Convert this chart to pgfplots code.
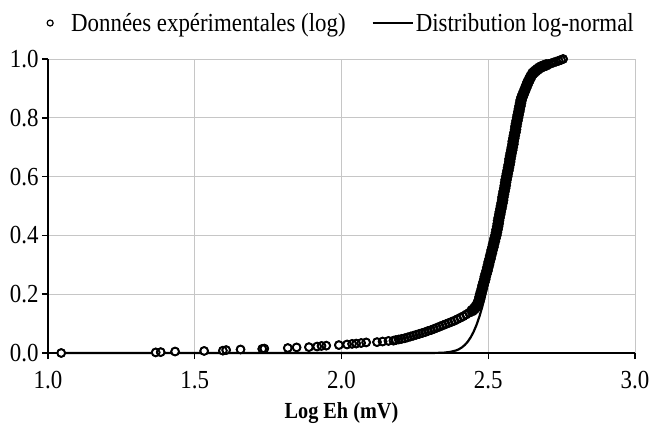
\documentclass[border=0pt]{standalone}
\usepackage{fontspec}
\setmainfont{Liberation Serif}[FakeStretch=0.88]
\usepackage{pgfplots}
\pgfplotsset{compat=1.18}
\pgfplotstableread{
x y
1.045 0.000
1.367 0.002
1.384 0.003
1.433 0.005
1.532 0.007
1.596 0.008
1.607 0.010
1.656 0.012
1.730 0.014
1.737 0.015
1.817 0.017
1.847 0.019
1.889 0.020
1.917 0.022
1.932 0.024
1.948 0.025
1.991 0.027
2.019 0.029
2.036 0.031
2.050 0.032
2.067 0.034
2.084 0.036
2.121 0.037
2.140 0.039
2.160 0.041
2.177 0.042
2.185 0.044
2.195 0.046
2.205 0.048
2.215 0.050
2.225 0.053
2.235 0.056
2.245 0.059
2.255 0.062
2.265 0.065
2.275 0.068
2.285 0.071
2.295 0.075
2.305 0.078
2.315 0.082
2.325 0.086
2.335 0.090
2.345 0.094
2.355 0.098
2.365 0.102
2.375 0.106
2.385 0.110
2.395 0.115
2.405 0.120
2.415 0.125
2.425 0.131
2.435 0.137
2.445 0.144
2.452 0.150
2.458 0.157
2.463 0.165
2.467 0.173
2.470 0.182
2.472 0.191
2.474 0.20
2.477 0.21
2.480 0.22
2.482 0.23
2.485 0.24
2.488 0.25
2.490 0.26
2.493 0.27
2.496 0.28
2.498 0.29
2.501 0.30
2.503 0.31
2.506 0.32
2.508 0.33
2.511 0.34
2.513 0.35
2.516 0.36
2.518 0.37
2.521 0.38
2.523 0.39
2.526 0.40
2.528 0.41
2.530 0.42
2.532 0.43
2.534 0.44
2.535 0.45
2.537 0.46
2.539 0.47
2.541 0.48
2.543 0.49
2.545 0.50
2.547 0.51
2.549 0.52
2.550 0.53
2.552 0.54
2.554 0.55
2.556 0.56
2.558 0.57
2.559 0.58
2.561 0.59
2.563 0.60
2.565 0.61
2.567 0.62
2.569 0.63
2.571 0.64
2.573 0.65
2.574 0.66
2.576 0.67
2.578 0.68
2.580 0.69
2.582 0.70
2.584 0.71
2.585 0.72
2.587 0.73
2.589 0.74
2.591 0.75
2.593 0.76
2.594 0.77
2.596 0.78
2.598 0.79
2.600 0.80
2.602 0.81
2.604 0.82
2.606 0.83
2.608 0.84
2.610 0.85
2.612 0.86
2.615 0.87
2.619 0.88
2.623 0.89
2.627 0.90
2.631 0.91
2.635 0.92
2.640 0.93
2.645 0.94
2.651 0.95
2.656 0.955
2.662 0.960
2.668 0.965
2.675 0.970
2.682 0.974
2.690 0.977
2.698 0.980
2.706 0.983
2.714 0.985
2.722 0.988
2.731 0.991
2.740 0.994
2.748 0.997
2.755 1.000
}\datapoints
\pgfplotstableread{
x y
1.045 0.0000
2.300 0.0001
2.330 0.0005
2.350 0.0013
2.370 0.0036
2.390 0.0085
2.400 0.0128
2.410 0.0189
2.420 0.0272
2.430 0.0384
2.440 0.0531
2.450 0.0719
2.460 0.0955
2.470 0.1243
2.480 0.1587
2.490 0.1987
2.500 0.2444
2.510 0.2952
2.520 0.3501
2.530 0.4088
2.540 0.4693
2.550 0.5307
2.560 0.5912
2.570 0.6499
2.580 0.7048
2.590 0.7556
2.600 0.8013
2.610 0.8413
2.620 0.8757
2.630 0.9045
2.640 0.9281
2.650 0.9469
2.660 0.9616
2.680 0.9811
2.700 0.9915
2.720 0.9964
2.740 0.9987
2.760 0.9995
}\lognormal
\begin{document}
\begin{tikzpicture}
\useasboundingbox (-48pt,-84pt) rectangle (601pt,353pt);
\begin{axis}[
  scale only axis, width=587pt, height=294pt,
  at={(0,0)}, anchor=south west,
  xmin=1, xmax=3, ymin=0, ymax=1,
  xtick={1,1.5,2,2.5,3},
  ytick={0,0.2,0.4,0.6,0.8,1},
  /pgf/number format/assume math mode=true,
  xticklabel style={/pgf/number format/.cd, fixed, fixed zerofill, precision=1, /tikz/.cd, yshift=-9pt},
  yticklabel style={/pgf/number format/.cd, fixed, fixed zerofill, precision=1},
  tick label style={font=\fontsize{26}{28}\selectfont, black},
  grid=major,
  major grid style={draw=gray!45, line width=0.9pt},
  axis x line*=bottom, axis y line*=left,
  axis line style={line width=1.8pt, -, black},
  tick style={black, line width=1.5pt},
  major tick length=6pt, tick align=outside,
  xlabel={\bfseries Log Eh (mV)},
  xlabel style={font=\fontsize{23}{25}\selectfont, yshift=-6pt},
  clip=false,
  legend columns=2,
  legend cell align=left,
  legend style={at={(1,1)}, anchor=south east, yshift=22pt, xshift=4pt,
    draw=none, fill=none, font=\fontsize{26}{28}\selectfont,
    /tikz/every even column/.append style={column sep=24pt}},
]
\addplot[black, line width=2.2pt, forget plot] table[x=x, y=y] {\lognormal};
\addplot[only marks, mark=*, mark size=3.9pt, forget plot,
  mark options={fill=white, draw=black, line width=1.4pt}] table[x=x, y=y] {\datapoints};
\addplot[only marks, mark=*, mark size=5.6pt, forget plot,
  restrict y to domain=0.14:0.982,
  mark options={fill=black, draw=none}] table[x=x, y=y] {\datapoints};
\addplot[only marks, mark=o, mark size=3.9pt,
  mark options={draw=black, line width=1.9pt},
  legend image code/.code={\draw[black, line width=1.2pt, fill=white] (0pt,0pt) circle (3pt); \path[draw=none, fill=none] (-3pt,0pt) -- (19pt,0pt);}] table[x=x, y=y] {\datapoints};
\addlegendentry{Données expérimentales (log)}
\addlegendimage{black, line width=2.2pt,
  legend image code/.code={\draw[black, line width=2.2pt] (0pt,0pt) -- (40pt,0pt);}}
\addlegendentry{Distribution log-normal}
\end{axis}
\end{tikzpicture}
\end{document}
